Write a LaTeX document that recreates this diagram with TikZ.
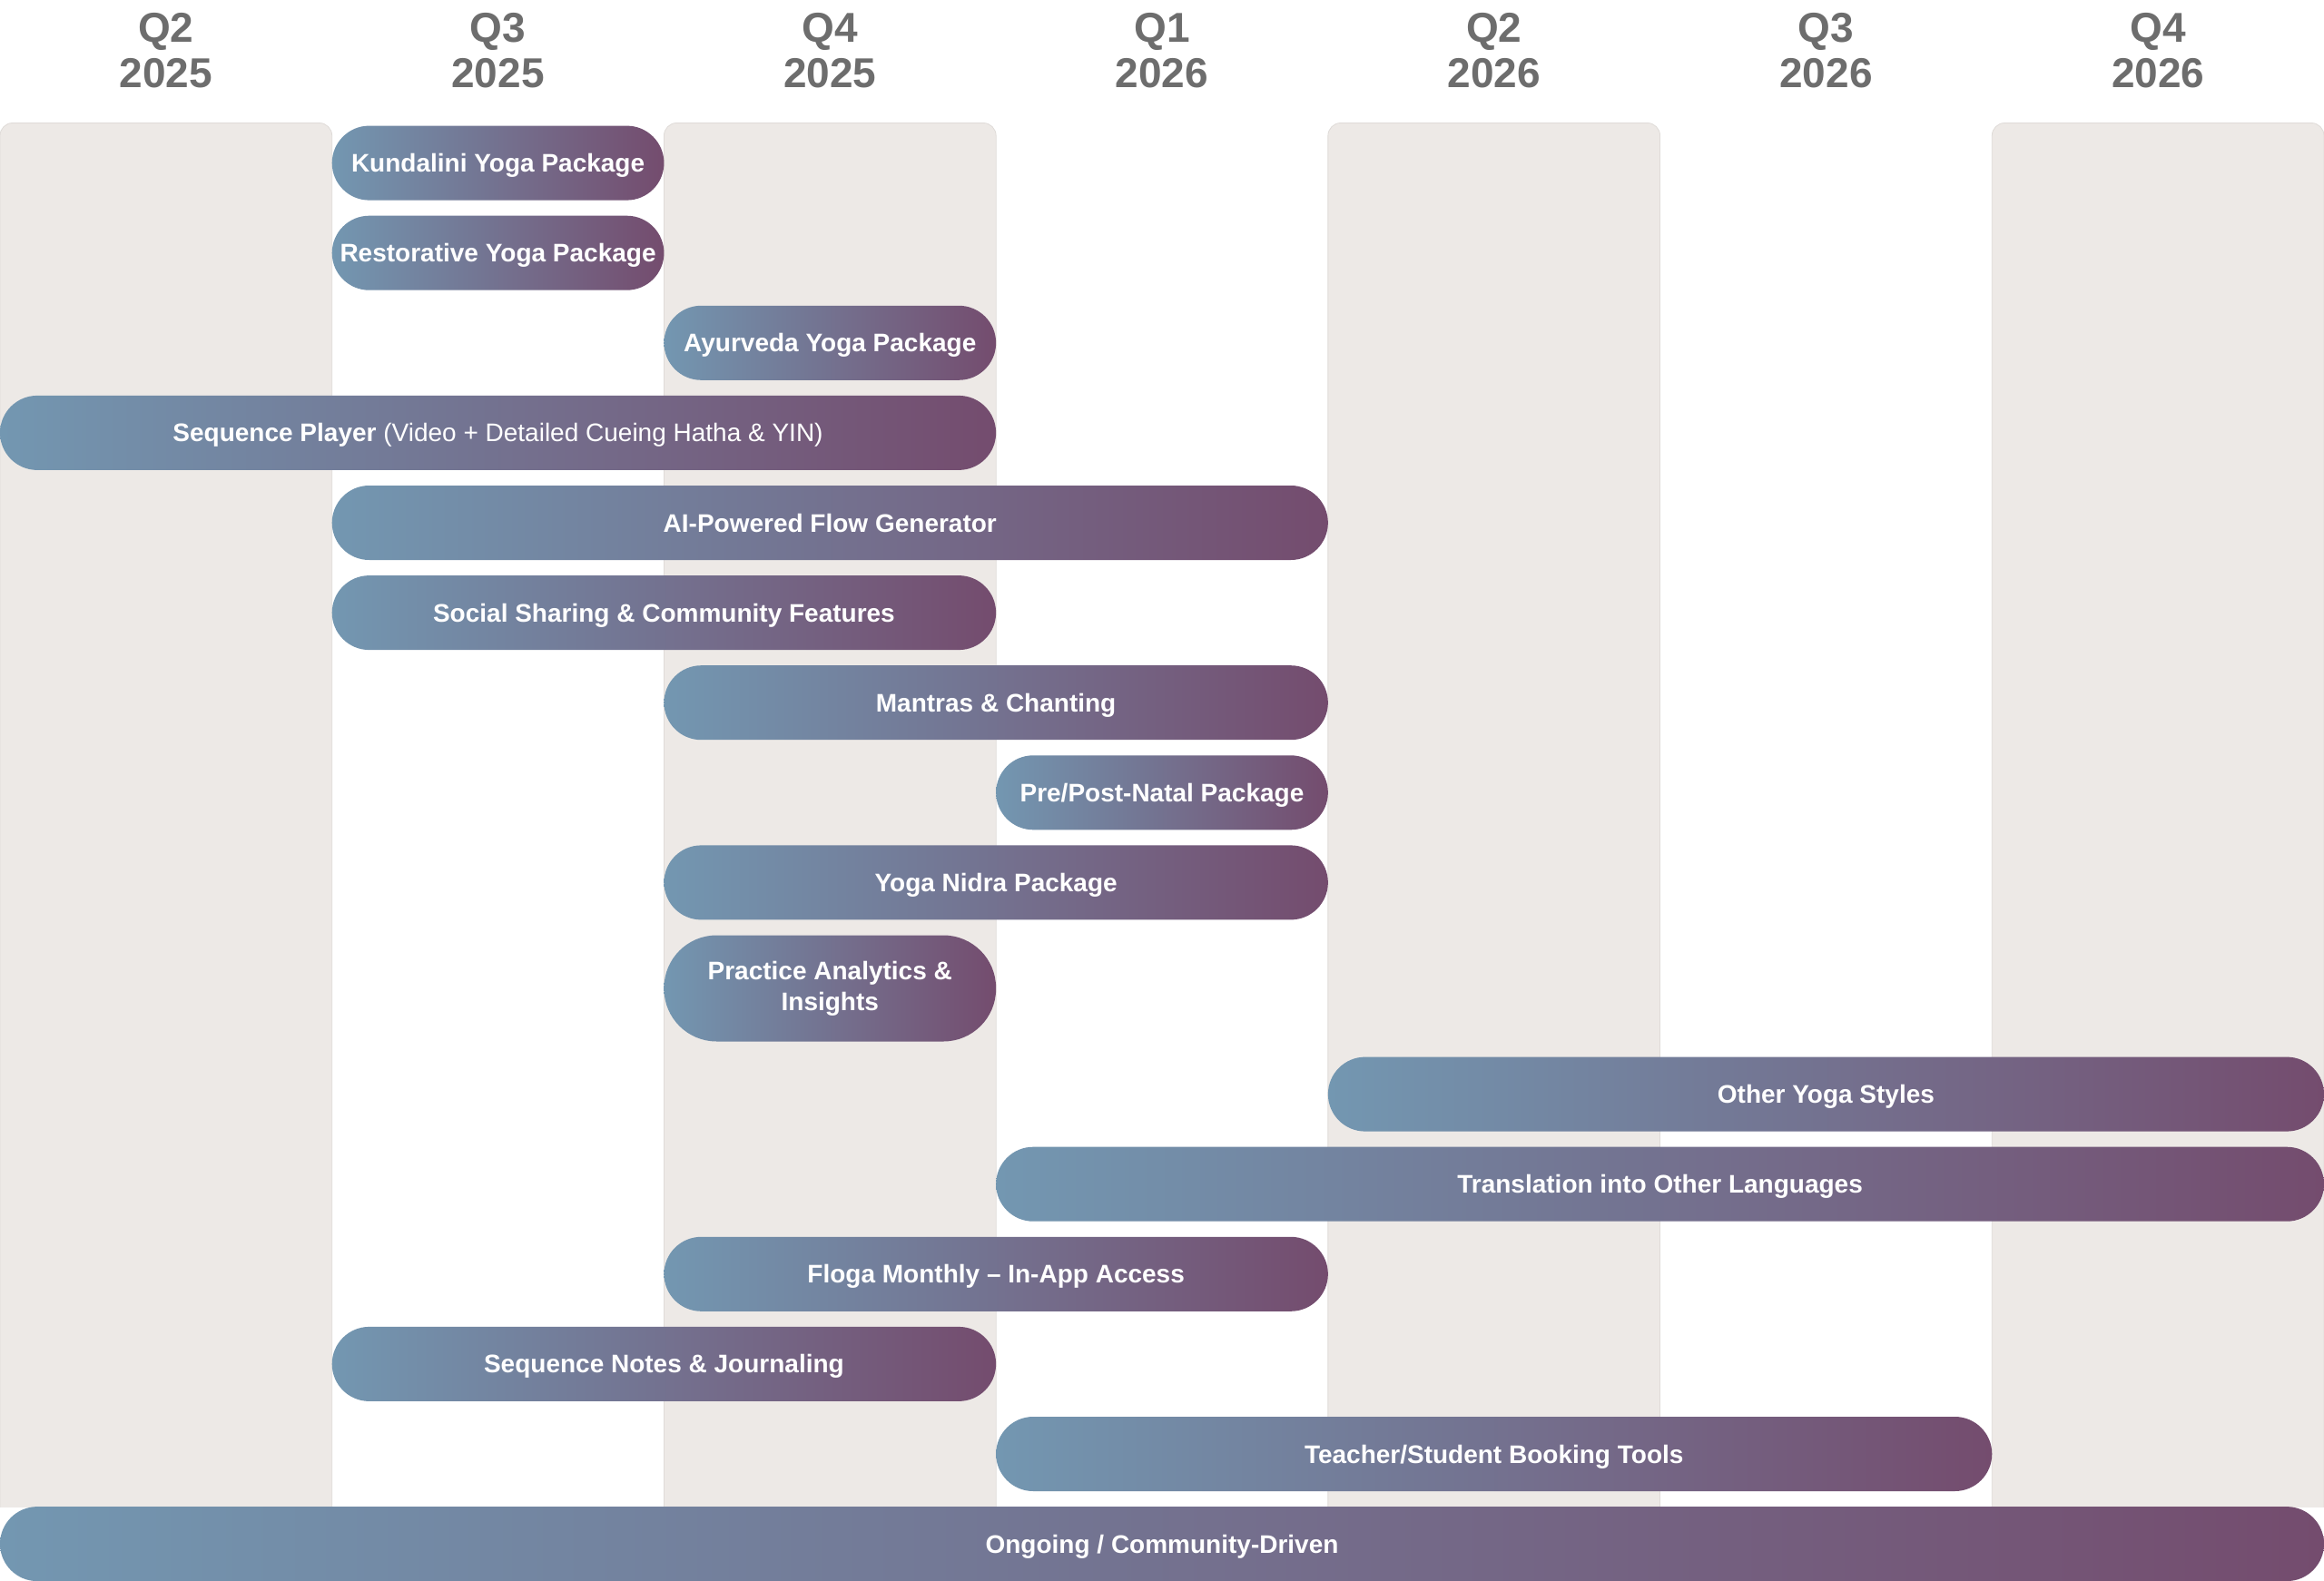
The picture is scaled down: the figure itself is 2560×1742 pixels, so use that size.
\documentclass[tikz,border=0pt]{standalone}
\usepackage{fontspec}
\setmainfont{Liberation Sans}
\definecolor{colbg}{HTML}{EDE9E6}
\definecolor{colline}{HTML}{DFDBD8}
\definecolor{gradL}{HTML}{7397B1}
\definecolor{gradR}{HTML}{744C6E}
\definecolor{headtxt}{HTML}{6D6D6D}
\def\cw{365.714}
\newcommand\rbar[6][oneline]{%
  \node[pill, #1, minimum width={(#4-#3)*\cw pt}] (#2) at ({(#3+#4)/2*\cw},#5) {#6};}
\newcommand\qhead[4]{%
  \node[head, anchor=base] (#1q) at ({(#2+0.5)*\cw},47) {#3};
  \node[head, anchor=base] (#1y) at ({(#2+0.5)*\cw},97) {#4};}
\begin{document}
\begin{tikzpicture}[x=1pt,y=-1pt,
  colbox/.style={fill=colbg, draw=colline, line width=0.8pt, rounded corners=14pt},
  pill/.style={rectangle, inner sep=0pt, outer sep=0pt, left color=gradL, right color=gradR,
    text=white, font=\fontsize{28}{34}\selectfont\bfseries, align=center},
  oneline/.style={minimum height=82pt, rounded corners=41pt, text height=20pt, text depth=0pt},
  twoline/.style={minimum height=117pt, rounded corners=58pt},
  head/.style={text=headtxt, font=\fontsize{46}{52}\selectfont\bfseries}]
\useasboundingbox (0,0) rectangle (2560,1742);
\fill[white] (0,0) rectangle (2560,1742);
% shaded quarter columns
\begin{scope}
  \clip (0,0) rectangle (2560,1660);
  \foreach \c in {0,2,4,6}
    \path[colbox] ({\c*\cw},135.5) rectangle ({(\c+1)*\cw},1700);
\end{scope}
% headers
\qhead{h0}{0}{Q2}{2025}
\qhead{h1}{1}{Q3}{2025}
\qhead{h2}{2}{Q4}{2025}
\qhead{h3}{3}{Q1}{2026}
\qhead{h4}{4}{Q2}{2026}
\qhead{h5}{5}{Q3}{2026}
\qhead{h6}{6}{Q4}{2026}
% bars
\rbar{kundalini}{1}{2}{179.6}{Kundalini Yoga Package}
\rbar{restorative}{1}{2}{278.7}{Restorative Yoga Package}
\rbar{ayurveda}{2}{3}{377.8}{Ayurveda Yoga Package}
\rbar{seqplayer}{0}{3}{476.9}{Sequence Player \mdseries(Video + Detailed Cueing Hatha \& YIN)}
\rbar{aiflow}{1}{4}{576.0}{AI-Powered Flow Generator}
\rbar{social}{1}{3}{675.1}{Social Sharing \& Community Features}
\rbar{mantras}{2}{4}{774.2}{Mantras \& Chanting}
\rbar{prepost}{3}{4}{873.3}{Pre/Post-Natal Package}
\rbar{nidra}{2}{4}{972.4}{Yoga Nidra Package}
\rbar[twoline]{analytics}{2}{3}{1089}{Practice Analytics \&\\Insights}
\rbar{otherstyles}{4}{7}{1205.6}{Other Yoga Styles}
\rbar{translation}{3}{7}{1304.7}{Translation into Other Languages}
\rbar{floga}{2}{4}{1403.8}{Floga Monthly -- In-App Access}
\rbar{notes}{1}{3}{1502.9}{Sequence Notes \& Journaling}
\rbar{booking}{3}{6}{1602}{Teacher/Student Booking Tools}
\rbar{ongoing}{0}{7}{1701.1}{Ongoing / Community-Driven}
\end{tikzpicture}
\end{document}
